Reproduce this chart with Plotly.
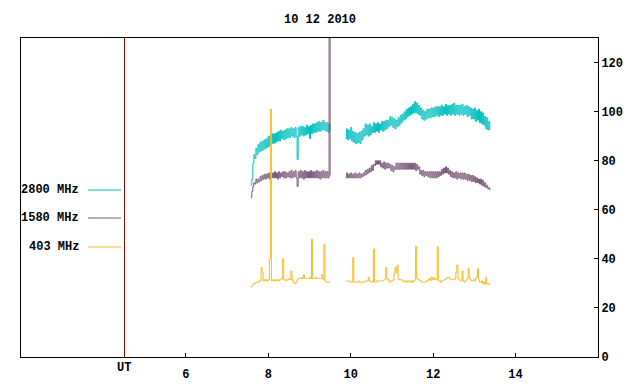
import numpy as np
import plotly.graph_objects as go

title_text = "10 12 2010"
series_names = ["2800 MHz", "1580 MHz", "403 MHz"]
series_colors = ["#00BFBF", "#7A5A7C", "#FBBA1E"]

x_ticks = [6, 8, 10, 12, 14]
y_ticks = [0, 20, 40, 60, 80, 100, 120]
ut_marker = 4.5
x_range = [2, 16]

# sampling grid (UT hours) of the two observing segments
seg1_start, seg2_start, step = 7.575, 9.875, 0.025

f2800_seg1 = [70.0, 72.5, 79.0, 82.5, 81.0, 85.0, 82.5, 86.5, 83.5, 87.5, 84.0, 88.0, 84.5, 88.5, 85.0, 89.0,
              85.5, 90.0, 86.0, 90.5, 87.0, 91.0, 87.0, 91.0, 87.5, 91.5, 88.0, 92.0, 88.0, 92.5, 89.0, 92.0,
              88.5, 92.5, 89.0, 93.0, 89.5, 93.0, 89.5, 93.5, 90.0, 93.0, 89.5, 93.5, 90.0, 80.5, 93.5, 90.0,
              94.0, 90.5, 94.0, 90.0, 93.5, 90.5, 94.5, 91.0, 94.0, 89.0, 94.5, 91.0, 95.0, 91.5, 95.0, 91.5,
              95.5, 92.0, 96.0, 92.0, 95.5, 92.5, 96.5, 92.5, 95.5, 92.0, 95.5, 91.5, 95.0, 92.0]
f2800_seg2 = [89.0, 93.0, 88.5, 92.5, 89.0, 93.5, 88.0, 92.0, 87.5, 91.5, 87.0, 91.0, 87.5, 91.5, 87.0, 92.0,
              88.5, 93.0, 90.0, 95.0, 90.5, 94.5, 90.0, 95.0, 90.5, 94.0, 91.5, 95.5, 91.5, 95.0, 92.0, 95.5,
              91.5, 95.0, 92.5, 96.0, 92.0, 96.0, 92.5, 96.5, 93.0, 96.5, 94.0, 98.0, 94.5, 97.5, 93.5, 97.0,
              93.0, 96.5, 94.0, 97.5, 94.5, 98.5, 95.5, 99.0, 96.5, 100.0, 97.0, 101.0, 98.0, 101.5, 98.5, 102.0,
              99.0, 103.0, 99.5, 104.0, 99.5, 103.5, 99.0, 102.5, 98.5, 101.5, 97.0, 100.5, 96.5, 100.0, 97.0,
              101.0, 97.5, 101.0, 97.5, 101.5, 98.0, 101.5, 98.0, 102.0, 98.5, 102.0, 98.0, 102.0, 98.5, 102.5,
              98.5, 102.0, 99.0, 103.0, 98.5, 102.5, 99.0, 102.5, 98.5, 103.0, 99.0, 103.5, 98.5, 102.5,
              99.0, 102.5, 98.5, 102.5, 99.0, 103.0, 98.5, 102.0, 99.0, 102.5, 98.0, 102.0, 98.5, 101.5,
              97.0, 101.0, 97.0, 101.5, 96.0, 100.5, 96.5, 101.0, 95.5, 100.0, 95.0, 99.5, 94.5, 98.0, 93.0,
              97.5, 92.5, 96.0, 92.5]

f1580_seg1 = [65.0, 67.5, 69.5, 71.0, 70.5, 72.5, 71.0, 72.5, 71.5, 73.5, 72.0, 74.0, 72.5, 74.5, 72.5, 74.5,
              73.0, 75.0, 72.5, 75.0, 73.0, 75.0, 73.0, 75.5, 73.0, 75.0, 72.5, 75.5, 73.0, 75.0, 73.5, 75.5,
              73.0, 75.5, 73.0, 75.0, 73.5, 75.5, 73.0, 76.0, 73.0, 75.5, 73.5, 76.0, 73.0, 69.5, 75.5, 73.0,
              76.0, 73.0, 75.5, 72.5, 76.0, 73.0, 75.5, 73.0, 75.5, 73.0, 76.0, 73.0, 75.5, 73.0, 75.5, 73.0,
              76.0, 73.0, 75.5, 72.5, 75.5, 73.0, 76.0, 73.0, 75.5, 73.0, 75.5, 73.0, 140.0, 74.0]
f1580_seg2 = [73.0, 75.0, 73.0, 74.5, 73.0, 75.0, 73.0, 74.5, 73.0, 75.0, 73.0, 74.5, 73.0, 75.0, 73.0, 74.5,
              73.5, 75.0, 74.0, 76.0, 74.5, 76.5, 75.0, 77.0, 75.5, 78.0, 76.0, 78.5, 78.0, 80.0, 78.5, 80.0,
              78.5, 80.0, 77.5, 79.0, 77.0, 79.5, 76.5, 79.0, 77.0, 79.0, 77.0, 78.5, 76.0, 78.0, 75.5, 77.5,
              76.5, 79.0, 76.5, 79.0, 76.5, 79.0, 76.5, 79.0, 76.5, 79.0, 76.5, 79.0, 76.5, 79.0, 76.5, 79.0,
              76.5, 79.0, 76.5, 79.0, 76.0, 78.5, 76.5, 77.5, 74.5, 76.0, 74.0, 76.0, 73.5, 75.5, 74.0,
              75.5, 73.5, 75.5, 73.0, 75.5, 73.0, 75.5, 73.0, 75.5, 73.0, 75.5, 73.5, 75.5, 74.0, 76.5,
              74.5, 77.0, 75.0, 77.5, 75.0, 77.0, 74.5, 76.0, 73.5, 75.5, 73.0, 75.0, 73.0, 75.5,
              72.5, 75.0, 73.0, 75.0, 72.5, 75.0, 72.5, 75.0, 72.5, 74.5, 72.0, 74.5, 72.0, 74.0,
              71.5, 74.0, 71.5, 73.5, 71.0, 73.0, 71.0, 72.5, 70.5, 72.5, 70.0, 72.0, 69.5, 71.0, 69.0,
              70.0, 68.5, 69.0, 68.0]

f403_seg1 = [28.5, 29.0, 29.5, 30.0, 30.0, 30.5, 30.5, 30.5, 31.0, 31.0, 36.5, 34.5, 31.0, 31.5, 31.0, 31.5,
             31.0, 31.5, 40.0, 101.0, 31.0, 31.5, 31.0, 31.5, 31.0, 31.5, 31.5, 31.0, 31.5, 31.5, 32.0, 40.0,
             31.5, 31.5, 31.0, 31.5, 31.5, 32.0, 31.5, 35.0, 31.5, 30.5, 30.0, 30.0, 30.5, 31.5, 32.0, 32.0,
             32.0, 32.5, 32.0, 33.5, 32.0, 32.0, 32.0, 32.0, 32.0, 32.5, 32.0, 48.0, 32.0, 32.0, 32.0, 32.5,
             32.0, 32.0, 32.0, 32.0, 32.0, 33.5, 31.5, 46.0, 31.0, 30.5, 30.5, 30.5, 30.5, 30.5]
f403_seg2 = [31.0, 31.0, 31.0, 31.0, 30.5, 30.5, 30.5, 40.5, 30.5, 30.5, 30.5, 30.5, 31.0, 30.5, 30.5, 30.5,
             30.5, 30.5, 30.5, 31.0, 31.0, 31.0, 32.5, 31.0, 31.0, 30.5, 30.5, 44.0, 30.5, 30.5, 31.0, 31.0,
             31.0, 31.0, 31.0, 31.0, 31.0, 31.5, 31.5, 36.5, 32.0, 31.5, 31.0, 30.5, 31.0, 31.0, 31.5, 34.0,
             36.5, 34.5, 37.5, 31.5, 31.5, 31.5, 31.5, 31.0, 31.0, 30.5, 31.0, 31.0, 30.5, 31.0, 31.0, 30.5,
             31.0, 30.5, 31.0, 31.5, 45.0, 32.0, 31.5, 31.5, 31.0, 31.0, 30.5, 30.5, 30.5, 30.5, 31.0, 31.0,
             31.5, 32.0, 31.0, 32.5, 31.5, 32.5, 31.5, 32.0, 31.5, 45.0, 31.0, 31.0, 30.5, 31.0, 31.0, 31.5,
             31.5, 32.0, 32.0, 32.5, 32.5, 32.0, 31.5, 31.5, 31.5, 31.5, 32.0, 34.5, 37.5, 32.0, 31.5, 31.0,
             31.0, 35.0, 31.0, 30.5, 31.0, 31.5, 32.0, 36.0, 32.0, 31.5, 31.0, 31.0, 31.5, 31.0, 32.0, 32.5,
             36.0, 31.5, 30.5, 30.5, 31.0, 30.0, 30.5, 29.5, 32.5, 30.0, 29.5, 30.0, 29.5]

t1 = [round(seg1_start + i * step, 4) for i in range(len(f2800_seg1))]
t2 = [round(seg2_start + i * step, 4) for i in range(len(f2800_seg2))]
times = t1 + [None] + t2

series = [f2800_seg1 + [None] + f2800_seg2,
          f1580_seg1 + [None] + f1580_seg2,
          f403_seg1 + [None] + f403_seg2]

FONT = "Liberation Mono"
fig = go.Figure()
for name, vals, col in zip(series_names, series, series_colors):
    fig.add_trace(go.Scatter(x=times, y=vals, mode="lines", name=name,
                             line=dict(color=col, width=1, shape="hv"),
                             connectgaps=False, showlegend=False))

L, R, T, B = 21, 42, 38, 27
W, H = 640, 384
pw, ph = W - L - R, H - T - B

def px_x(p):
    return (p - L) / pw

def px_y(p):
    return (H - B - p) / ph

# half a pixel in data units, so the 1px marker line lands on a pixel centre
half_px = 0.5 * (x_range[1] - x_range[0]) / pw
ut_line_x = ut_marker + half_px

shapes = [dict(type="line", xref="x", yref="paper", x0=ut_line_x, x1=ut_line_x, y0=0, y1=1,
               line=dict(color="#7A0000", width=1))]
annotations = [dict(text="UT", xref="x", yref="paper", x=ut_marker, y=px_y(368), xanchor="center",
                    yanchor="middle", showarrow=False,
                    font=dict(family=FONT, size=12, color="black", weight="bold"))]
legend_y = [190, 218, 247]
for name, col, ly in zip(series_names, series_colors, legend_y):
    shapes.append(dict(type="line", xref="paper", yref="paper", x0=px_x(88), x1=px_x(121),
                       y0=px_y(ly), y1=px_y(ly), line=dict(color=col, width=1)))
    annotations.append(dict(text=name, xref="paper", yref="paper", x=px_x(81), y=px_y(ly),
                            xanchor="right", yanchor="middle", showarrow=False,
                            font=dict(family=FONT, size=12, color="black", weight="bold")))

fig.update_layout(
    width=W, height=H,
    margin=dict(l=L, r=R, t=T, b=B, pad=0, autoexpand=False),
    paper_bgcolor="white", plot_bgcolor="white",
    title=dict(text=title_text, x=px_x(309.5), xanchor="center", y=1 - 19 / H, yanchor="middle",
               font=dict(family=FONT, size=12, color="black", weight="bold")),
    font=dict(family=FONT, size=12, color="black"),
    xaxis=dict(range=x_range, tickvals=x_ticks, ticktext=[str(v) for v in x_ticks], automargin=False,
               ticks="inside", ticklen=4, tickcolor="black", showgrid=False, zeroline=False,
               showline=True, mirror=True, linecolor="black", linewidth=1, ticklabelstandoff=6,
               tickfont=dict(family=FONT, size=12, color="black", weight="bold")),
    yaxis=dict(range=[0, 130], side="right", tickvals=y_ticks, ticks="inside", ticklen=4, automargin=False,
               tickcolor="black", showgrid=False, zeroline=False,
               showline=True, mirror=True, linecolor="black", linewidth=1,
               tickfont=dict(family=FONT, size=12, color="black", weight="bold")),
    shapes=shapes, annotations=annotations,
)

fig.write_html("out.html", config={"displayModeBar": False},
               post_script="document.body.style.margin='0px';document.body.style.overflow='hidden';")
